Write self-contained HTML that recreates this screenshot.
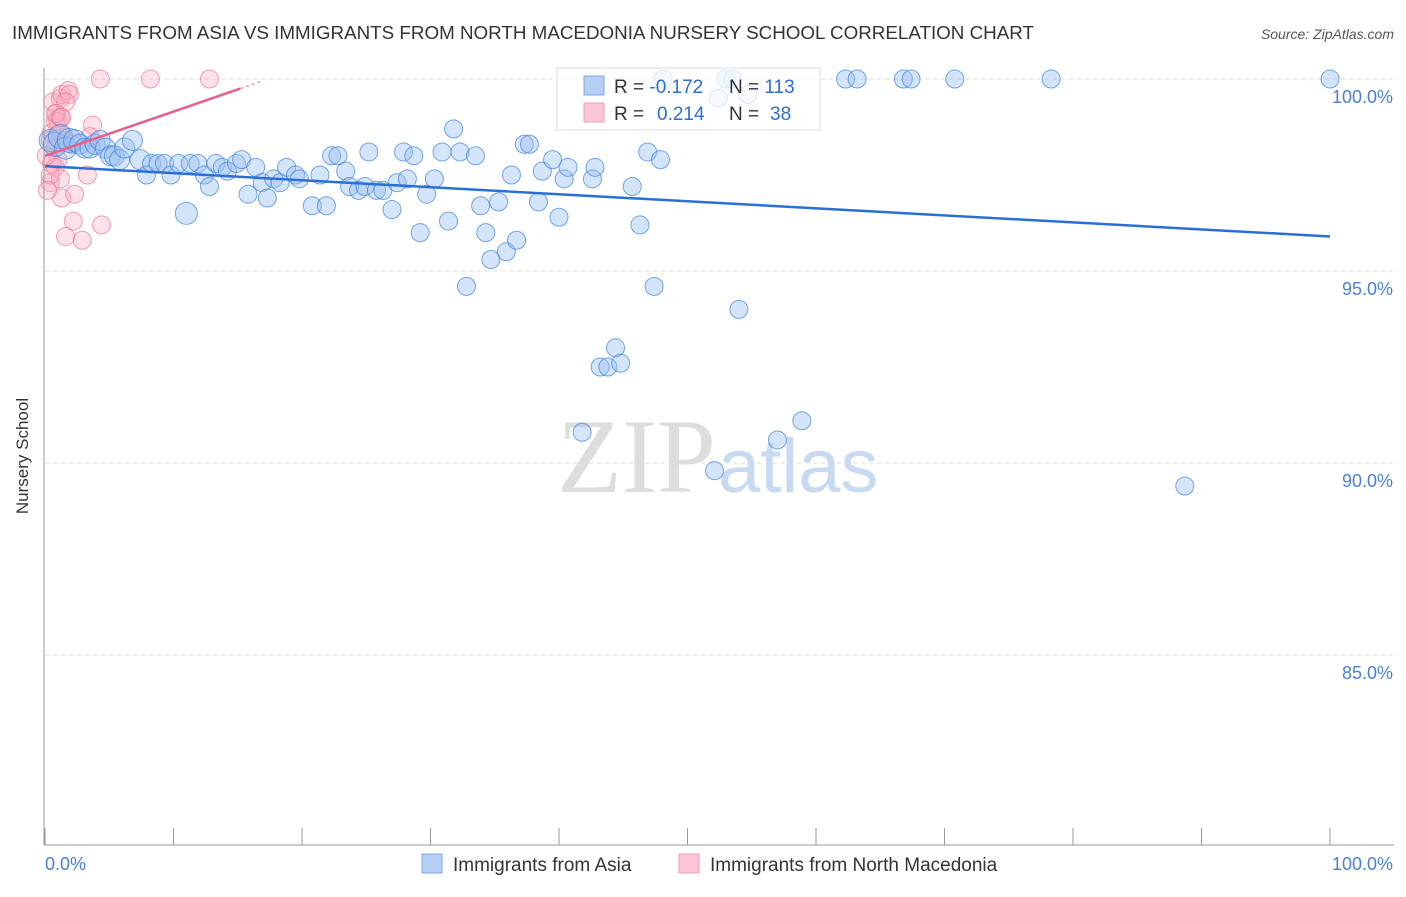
<!DOCTYPE html>
<html><head><meta charset="utf-8"><style>
body{margin:0;background:#fff;font-family:"Liberation Sans",sans-serif;}
</style></head><body>
<svg width="1406" height="892" viewBox="0 0 1406 892">
<text x="12" y="39" font-size="18.8" fill="#333" textLength="1022" lengthAdjust="spacingAndGlyphs">IMMIGRANTS FROM ASIA VS IMMIGRANTS FROM NORTH MACEDONIA NURSERY SCHOOL CORRELATION CHART</text>
<text x="1394" y="39" font-size="14" fill="#555" text-anchor="end" font-style="italic">Source: ZipAtlas.com</text>
<text x="28" y="456" font-size="17" fill="#333" text-anchor="middle" transform="rotate(-90 28 456)">Nursery School</text>
<g id="grid"></g>
<text x="716" y="492" font-size="106" fill="#ddd" text-anchor="end" font-family="Liberation Serif,serif">ZIP</text>
<text x="718" y="492" font-size="76" fill="#c8daf2">atlas</text>
<g id="pts"></g>
<g id="axes"></g>
<g>
<rect x="557" y="68" width="263" height="62" fill="rgba(255,255,255,0.75)" stroke="#ddd"/>
<rect x="584" y="76" width="20" height="19" fill="#b6d0f5" stroke="#7aa7e6"/>
<rect x="584" y="103" width="20" height="19" fill="#fcc7d4" stroke="#f09ab2"/>
<text x="614" y="93" font-size="19" fill="#333">R = <tspan fill="#2a6fd6">-0.172</tspan>  <tspan x="729">N =</tspan> <tspan fill="#2a6fd6">113</tspan></text>
<text x="614" y="120" font-size="19" fill="#333">R = <tspan x="657" fill="#2a6fd6">0.214</tspan> <tspan x="729">N =</tspan> <tspan x="770" fill="#2a6fd6">38</tspan></text>
</g>
<g>
<rect x="422" y="854" width="20" height="19" fill="#b6d0f5" stroke="#7aa7e6"/>
<text x="453" y="871" font-size="19" fill="#333">Immigrants from Asia</text>
<rect x="679" y="854" width="20" height="19" fill="#fcc7d4" stroke="#f09ab2"/>
<text x="710" y="871" font-size="19" fill="#333">Immigrants from North Macedonia</text>
</g>
</svg>
<script>
const yTicks=[100,95,90,85];
const xTickLabels=["0.0%","100.0%"];
const blueX=[0.4,0.8,1.2,1.6,1.9,2.3,2.7,3.1,3.5,3.9,4.3,4.7,5.1,5.4,5.8,6.2,6.8,7.4,7.9,8.3,8.8,9.3,9.8,10.4,11.0,11.3,11.9,12.4,12.8,13.3,13.8,14.2,14.9,15.3,15.8,16.4,16.9,17.3,17.8,18.3,18.8,19.5,19.8,20.8,21.4,21.9,22.3,22.8,23.4,23.7,24.4,24.9,25.2,25.8,26.3,27.0,27.4,27.9,28.2,28.7,29.2,29.7,30.3,30.9,31.4,31.8,32.3,32.8,33.5,33.9,34.3,34.7,35.3,35.9,36.3,36.7,37.3,37.7,38.4,38.7,39.5,40.0,40.4,40.7,42.6,42.8,43.2,43.8,44.4,44.8,45.7,46.3,46.9,47.4,47.9,52.1,54.0,57.0,58.9,88.7,48.1,52.4,53.0,53.5,62.3,63.2,66.8,67.4,70.8,78.3,100,41.8,54.7];
const blueY=[98.4,98.3,98.5,98.2,98.4,98.4,98.3,98.2,98.2,98.3,98.4,98.2,98.0,98.0,97.9,98.2,98.4,97.9,97.5,97.8,97.8,97.8,97.5,97.8,96.5,97.8,97.8,97.5,97.2,97.8,97.7,97.6,97.8,97.9,97.0,97.7,97.3,96.9,97.4,97.3,97.7,97.5,97.4,96.7,97.5,96.7,98.0,98.0,97.6,97.2,97.1,97.2,98.1,97.1,97.1,96.6,97.3,98.1,97.4,98.0,96.0,97.0,97.4,98.1,96.3,98.7,98.1,94.6,98.0,96.7,96.0,95.3,96.8,95.5,97.5,95.8,98.3,98.3,96.8,97.6,97.9,96.4,97.4,97.7,97.4,97.7,92.5,92.5,93.0,92.6,97.2,96.2,98.1,94.6,97.9,89.8,94.0,90.6,91.1,89.4,100,99.5,100,100,100,100,100,100,100,100,100,90.8,99.6];
const blueR=[11,12,12,11,12,11,10,10,10,10,10,10,10,10,10,10,10,10,9,9,9,9,9,9,11,9,9,9,9,9,9,9,9,9,9,9,9,9,9,9,9,9,9,9,9,9,9,9,9,9,9,9,9,9,9,9,9,9,9,9,9,9,9,9,9,9,9,9,9,9,9,9,9,9,9,9,9,9,9,9,9,9,9,9,9,9,9,9,9,9,9,9,9,9,9,9,9,9,9,9,9,9,9,9,9,9,9,9,9,9,9,9,9];
const pinkX=[0.4,0.5,0.8,0.9,0.6,1.2,1.3,1.8,1.9,4.3,8.2,12.8,0.8,1.0,0.5,0.4,0.8,1.2,1.3,2.2,2.3,2.9,3.3,3.7,3.5,1.6,4.4,0.4,0.2,1.2,1.0,1.6,2.1,0.8,1.2,0.1,1.6,1.3];
const pinkY=[98.4,98.6,98.9,99.1,99.4,99.5,99.6,99.7,99.6,100,100,100,98.2,97.9,97.8,97.3,97.7,97.4,96.9,96.3,97.0,95.8,97.5,98.8,98.5,95.9,96.2,97.5,97.1,98.6,98.9,98.4,98.3,99.1,99.0,98.0,99.4,99.0];
const NS="http://www.w3.org/2000/svg";
const X0=45,X1=1330,Y100=79,PPY=38.4;
const sx=v=>X0+(X1-X0)*v/100;
const sy=v=>Y100+(100-v)*PPY;
function mk(t,a,p){const e=document.createElementNS(NS,t);for(const k in a)e.setAttribute(k,a[k]);p.appendChild(e);return e;}
const grid=document.getElementById('grid'),axes=document.getElementById('axes'),pts=document.getElementById('pts');
yTicks.forEach(v=>{
 const l=mk('line',{x1:45,x2:1394,y1:sy(v),y2:sy(v),stroke:'#ddd','stroke-dasharray':'4,4'},grid);
 
 
 const t=mk('text',{x:1393,y:sy(v)+24,'font-size':18,fill:'#4a7fd8','text-anchor':'end'},axes);
 t.textContent=v.toFixed(1)+'%';
 
 
});
const ax=mk('line',{x1:44,x2:44,y1:68,y2:845,stroke:'#999'},axes);


const bx=mk('line',{x1:44,x2:1394,y1:845,y2:845,stroke:'#999'},axes);


for(let i=0;i<=10;i++){const t=mk('line',{x1:sx(i*10),x2:sx(i*10),y1:828,y2:845,stroke:'#999'},axes);
 
 }
[[0,'start',45],[1,'end',1393]].forEach(([i,a,x])=>{const t=mk('text',{x:x,y:870,'font-size':18,fill:'#4a7fd8','text-anchor':a},axes);t.textContent=xTickLabels[i];
 
 });
pinkX.forEach((x,i)=>{const c=mk('circle',{cx:sx(x),cy:sy(pinkY[i]),r:9,fill:'rgba(248,170,190,0.35)',stroke:'rgba(232,120,150,0.7)'},pts);
 
 });
blueX.forEach((x,i)=>{const c=mk('circle',{cx:sx(x),cy:sy(blueY[i]),r:blueR[i],fill:'rgba(150,190,240,0.4)',stroke:'rgba(60,130,220,0.7)'},pts);
 
 });
const bl=mk('line',{x1:sx(0),y1:sy(97.73),x2:sx(100),y2:sy(95.9),stroke:'#2a6fd6','stroke-width':2.5},pts);


const pl=mk('line',{x1:sx(0),y1:sy(98.0),x2:sx(15.2),y2:sy(99.75),stroke:'#e8608a','stroke-width':2.5},pts);


const pd=mk('line',{x1:sx(15.2),y1:sy(99.75),x2:sx(16.9),y2:sy(99.95),stroke:'#f0a0b8','stroke-width':1.5,'stroke-dasharray':'3,3'},pts);


</script>
</body></html>
